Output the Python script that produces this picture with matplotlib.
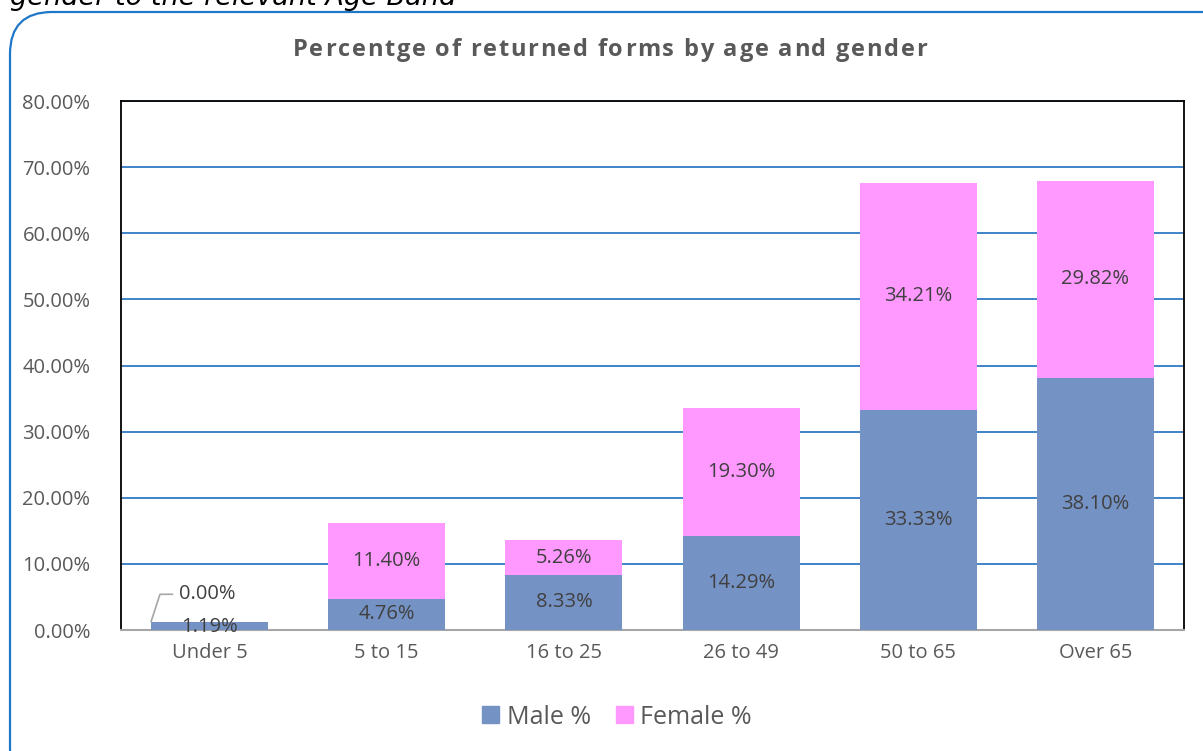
import matplotlib
matplotlib.use("Agg")
import matplotlib.pyplot as plt
from matplotlib.patches import FancyBboxPatch, Patch
import numpy as np

plt.rcParams['font.family'] = ['Open Sans', 'DejaVu Sans']

categories = ["Under 5", "5 to 15", "16 to 25", "26 to 49", "50 to 65", "Over 65"]
male = [1.19, 4.76, 8.33, 14.29, 33.33, 38.10]
female = [0.00, 11.40, 5.26, 19.30, 34.21, 29.82]
yticks = [0, 10, 20, 30, 40, 50, 60, 70, 80]
title = "Percentge of returned forms by age and gender"
caption = "gender to the relevant Age Band"

male_color = "#7592C4"
female_color = "#FF99FF"
text_color = "#404040"
tick_color = "#595959"
FS = 14.5

W, H = 1203, 751
fig = plt.figure(figsize=(W / 100, H / 100), dpi=100)

# Outer rounded frame
frame = FancyBboxPatch((10 / W, -40 / H), (W + 40) / W, (H + 40 - 12) / H,
                       boxstyle="round,pad=0,rounding_size=0.035",
                       transform=fig.transFigure, fill=False,
                       edgecolor="#1F77C8", linewidth=1.6, mutation_aspect=W / H)
fig.patches.append(frame)

# Cut-off caption text at top (partly outside the figure, as in the reference)
fig.text(10 / W, 1 - 5 / H, caption, fontsize=19.5,
         style='italic', color='black', ha='left', va='baseline', family=['DejaVu Sans'])

ax = fig.add_axes([121 / W, 1 - 630 / H, (1184 - 121) / W, (630 - 101) / H])
x = np.arange(len(categories))
bw = 0.66
ax.bar(x, male, bw, color=male_color, zorder=3)
ax.bar(x, female, bw, bottom=male, color=female_color, zorder=3)

ax.set_xlim(-0.5, len(categories) - 0.5)
ax.set_ylim(0, 80)
ax.set_yticks(yticks)
ax.set_yticklabels([f"{v:.2f}%" for v in yticks], fontsize=FS, color=tick_color)
ax.set_xticks(x)
ax.set_xticklabels(categories, fontsize=FS, color=tick_color)
ax.tick_params(axis='x', length=0, pad=9)
ax.tick_params(axis='y', length=0, pad=22)
ax.yaxis.grid(True, color="#1F6FBF", linewidth=1.2, zorder=0)
ax.set_axisbelow(True)
for s in ['left', 'top', 'right']:
    ax.spines[s].set_color('black')
    ax.spines[s].set_linewidth(1.3)
ax.spines['bottom'].set_color('#A6A6A6')
ax.spines['bottom'].set_linewidth(1.5)

for i in range(len(categories)):
    m, f = male[i], female[i]
    ax.text(x[i], m / 2 - (0.2 if m < 3 else 0), f"{m:.2f}%", ha='center', va='center',
            fontsize=FS, color=text_color, zorder=5)
    if f > 0.5:
        ax.text(x[i], m + f / 2, f"{f:.2f}%", ha='center', va='center',
                fontsize=FS, color=text_color, zorder=5)
    else:
        ax.plot([x[i] - 0.33, x[i] - 0.28, x[i] - 0.21], [m + 0.1, 5.4, 5.4],
                color='#A6A6A6', linewidth=1.2, zorder=4)
        ax.text(x[i] - 0.17, 5.4, f"{f:.2f}%", ha='left', va='center',
                fontsize=FS, color=text_color, zorder=5)

# Letter-spaced bold title
renderer = fig.canvas.get_renderer()
tfs = 17
target_w = 634.0


def text_width(s):
    t = fig.text(0, 0, s, fontsize=tfs, fontweight='bold')
    w = t.get_window_extent(renderer=renderer).width
    t.remove()
    return w


space_w = text_width('n n') - text_width('nn')
widths = [space_w if ch == ' ' else text_width(ch) for ch in title]
gap = (target_w - sum(widths)) / (len(title) - 1)
xpos = 293.0
for ch, w in zip(title, widths):
    if ch != ' ':
        fig.text(xpos / W, 1 - 50 / H, ch, ha='left', va='center', fontsize=tfs,
                 fontweight='bold', color=tick_color)
    xpos += w + gap

handles = [Patch(color=male_color, label="Male %"), Patch(color=female_color, label="Female %")]
fig.legend(handles=handles, loc='center', bbox_to_anchor=(617 / W, 1 - 717 / H), ncol=2,
           frameon=False, fontsize=18, handlelength=0.68, handleheight=0.68,
           handletextpad=0.3, columnspacing=1.0, labelcolor=tick_color)

fig.savefig("out.png", dpi=100)
